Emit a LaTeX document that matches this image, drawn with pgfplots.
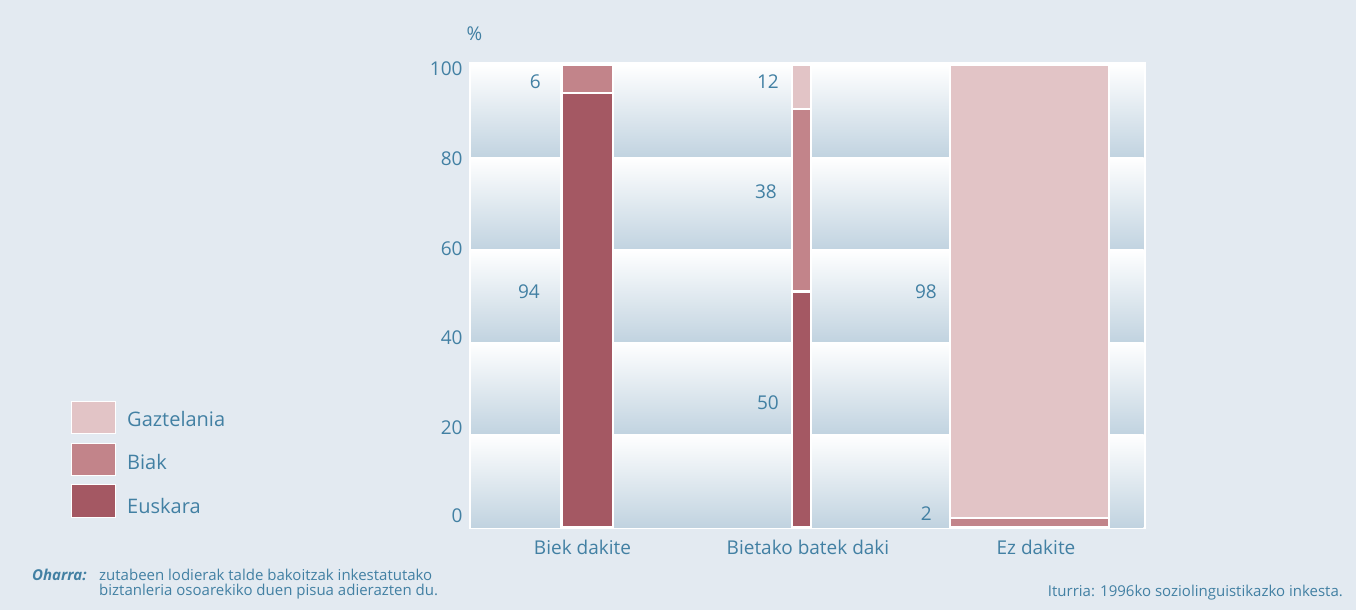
\documentclass[border=0pt]{standalone}
\usepackage{fontspec}
\setmainfont{Open Sans}
\usepackage{pgfplots}
\pgfplotsset{compat=1.18}
\definecolor{bgc}{RGB}{227,234,241}
\definecolor{band}{RGB}{193,211,224}
\definecolor{txt}{RGB}{66,128,163}
\definecolor{gazt}{RGB}{226,196,198}
\definecolor{biak}{RGB}{194,132,138}
\definecolor{eusk}{RGB}{164,88,99}
\begin{document}
\begin{tikzpicture}[x=1pt,y=1pt]
\fill[bgc] (0,0) rectangle (1356,610);
\begin{axis}[
  at={(469pt,81pt)}, anchor=south west,
  scale only axis, width=677pt, height=467pt,
  xmin=0, xmax=677, ymin=-0.43, ymax=100.65,
  axis background/.style={fill=white},
  axis line style={draw=none},
  tick style={draw=none}, major tick length=0pt,
  ytick={2.38,21.6,41.0,60.33,79.8,99.13},
  yticklabels={0,20,40,60,80,100},
  yticklabel style={anchor=east, inner sep=0pt, xshift=-6.3pt, text=txt, font=\fontsize{19}{22}\selectfont},
  xtick={113.5,339,567},
  xticklabels={Biek dakite, Bietako batek daki, Ez dakite},
  xticklabel style={anchor=base, inner sep=0pt, yshift=-25pt, text=txt, font=\fontsize{19}{22}\selectfont},
  clip=false,
]
% background bands
\shade[top color=white, bottom color=band] (axis cs:2,80) rectangle (axis cs:674.3,100);
\shade[top color=white, bottom color=band] (axis cs:2,60) rectangle (axis cs:674.3,80);
\shade[top color=white, bottom color=band] (axis cs:2,40) rectangle (axis cs:674.3,60);
\shade[top color=white, bottom color=band] (axis cs:2,20) rectangle (axis cs:674.3,40);
\shade[top color=white, bottom color=band] (axis cs:2,0) rectangle (axis cs:674.3,20);
% Biek dakite (width 92.5-143.7)
\addplot[fill=eusk, draw=white, line width=2.3pt, mark=none] coordinates {(92.5,0) (143.7,0) (143.7,94) (92.5,94)} --cycle;
\addplot[fill=biak, draw=white, line width=2.3pt, mark=none] coordinates {(92.5,94) (143.7,94) (143.7,100) (92.5,100)} --cycle;
% Bietako batek daki (width 322.8-342.2)
\addplot[fill=eusk, draw=white, line width=2.3pt, mark=none] coordinates {(322.8,0) (342.2,0) (342.2,51) (322.8,51)} --cycle;
\addplot[fill=biak, draw=white, line width=2.3pt, mark=none] coordinates {(322.8,51) (342.2,51) (342.2,90.5) (322.8,90.5)} --cycle;
\addplot[fill=gazt, draw=white, line width=2.3pt, mark=none] coordinates {(322.8,90.5) (342.2,90.5) (342.2,100) (322.8,100)} --cycle;
% Ez dakite (width 480.8-640.2)
\addplot[fill=biak, draw=white, line width=2.3pt, mark=none] coordinates {(480.8,0) (640.2,0) (640.2,2) (480.8,2)} --cycle;
\addplot[fill=gazt, draw=white, line width=2.3pt, mark=none] coordinates {(480.8,2) (640.2,2) (640.2,100) (480.8,100)} --cycle;
% value labels
\begin{scope}[every node/.style={anchor=east, inner sep=0pt, text=txt, font=\fontsize{19}{22}\selectfont}]
\node at (axis cs:72,96.3) {6};
\node at (axis cs:71,50.9) {94};
\node at (axis cs:310,96.4) {12};
\node at (axis cs:308,72.5) {38};
\node at (axis cs:310,26.8) {50};
\node at (axis cs:468,50.9) {98};
\node at (axis cs:463,2.8) {2};
\end{scope}
\end{axis}
% percent sign
\node[anchor=base west, inner sep=0pt, text=txt, font=\fontsize{19}{22}\selectfont] at (466.5,569.3) {\%};
% legend
\filldraw[fill=gazt, draw=white, line width=1pt] (71,176) rectangle (115,208);
\filldraw[fill=biak, draw=white, line width=1pt] (71,134) rectangle (115,166);
\filldraw[fill=eusk, draw=white, line width=1pt] (71,92) rectangle (115,125);
\begin{scope}[every node/.style={anchor=base west, inner sep=0pt, text=txt, font=\fontsize{20}{24}\selectfont}]
\node at (127,183.3) {Gaztelania};
\node at (127,140) {Biak};
\node at (127,96) {Euskara};
\end{scope}
% footnotes
\begin{scope}[every node/.style={anchor=base west, inner sep=0pt, text=txt, font=\fontsize{15}{18}\selectfont}]
\node at (32,30) {\textbf{\textit{Oharra:}}};
\node at (99,30) {zutabeen lodierak talde bakoitzak inkestatutako};
\node at (99,15) {biztanleria osoarekiko duen pisua adierazten du.};
\node[anchor=base east] at (1343,14) {Iturria: 1996ko soziolinguistikazko inkesta.};
\end{scope}
\end{tikzpicture}
\end{document}
